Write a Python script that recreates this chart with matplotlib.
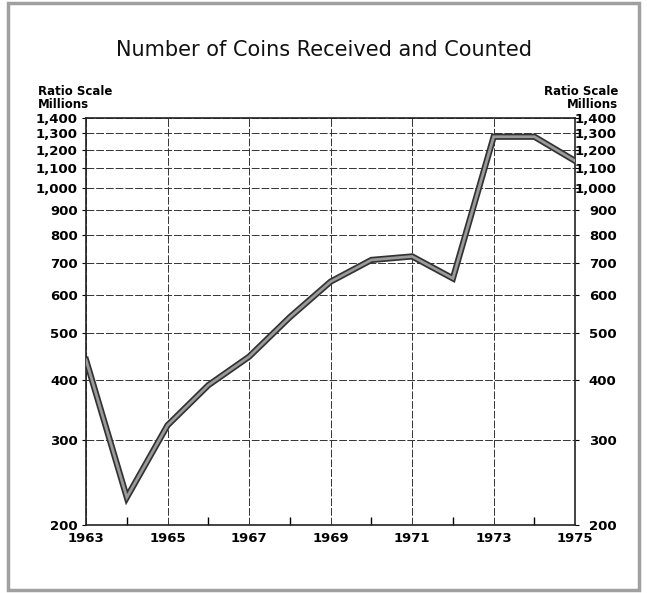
import matplotlib.pyplot as plt
import matplotlib.transforms as mtransforms
from matplotlib.ticker import FixedLocator, NullFormatter, NullLocator
from matplotlib.patches import Rectangle

# Data (millions of coins)
years = [1963, 1964, 1965, 1966, 1967, 1968, 1969, 1970, 1971, 1972, 1973, 1974, 1975]
coins = [440, 228, 322, 390, 447, 540, 640, 710, 722, 650, 1280, 1280, 1140]

y_ticks = [200, 300, 400, 500, 600, 700, 800, 900, 1000, 1100, 1200, 1300, 1400]
y_labels = ['200', '300', '400', '500', '600', '700', '800', '900',
            '1,000', '1,100', '1,200', '1,300', '1,400']
x_ticks = [1963, 1965, 1967, 1969, 1971, 1973, 1975]

plt.rcParams['font.family'] = ['DejaVu Sans']

fig = plt.figure(figsize=(6.47, 5.93), dpi=100)

# grey frame around the whole figure
fig.patches.append(Rectangle((0.013, 0.005), 0.975, 0.99, transform=fig.transFigure,
                             fill=False, edgecolor='#a0a0a0', linewidth=2.5))

ax = fig.add_axes([0.133, 0.115, 0.756, 0.686])
ax.set_yscale('log')
ax.set_ylim(200, 1400)
ax.set_xlim(1963, 1975)

ax.yaxis.set_major_locator(FixedLocator(y_ticks))
ax.yaxis.set_minor_locator(NullLocator())
ax.yaxis.set_minor_formatter(NullFormatter())
ax.set_yticklabels(y_labels)
ax.set_xticks(x_ticks)
ax.set_xticks(years, minor=True)

ax.tick_params(axis='y', which='both', left=True, right=True, labelleft=True,
               labelright=True, length=3, labelsize=9.5, pad=3)
ax.tick_params(axis='x', which='major', length=0, labelsize=9.5, pad=5)
ax.tick_params(axis='x', which='minor', direction='in', length=6, width=1)
for lbl in ax.get_yticklabels() + ax.get_xticklabels():
    lbl.set_fontweight('bold')

# right-hand labels are right-aligned, like the left ones
offset = mtransforms.ScaledTranslation(0.33, 0, fig.dpi_scale_trans)
for t in ax.yaxis.get_major_ticks():
    t.label2.set_horizontalalignment('right')
    t.label2.set_fontweight('bold')
    t.label2.set_transform(t.label2.get_transform() + offset)

ax.grid(True, which='major', axis='both', color='#333333', linewidth=0.7,
        linestyle=(0, (8, 2)))
for s in ax.spines.values():
    s.set_linewidth(1.2)
    s.set_color('#222222')

# thick grey line with dark outline
ax.plot(years, coins, color='#333333', linewidth=4.5, solid_joinstyle='miter', zorder=3)
ax.plot(years, coins, color='#9a9a9a', linewidth=2, solid_joinstyle='miter', zorder=4)

fig.text(0.5, 0.915, 'Number of Coins Received and Counted', ha='center', va='center',
         fontsize=15, fontweight='medium', color='#111111')
fig.text(0.058, 0.835, 'Ratio Scale\nMillions', ha='left', va='center', fontsize=8.5,
         fontweight='bold', linespacing=0.95)
fig.text(0.955, 0.835, 'Ratio Scale\nMillions', ha='right', va='center', fontsize=8.5,
         fontweight='bold', linespacing=0.95, multialignment='right')

fig.savefig('out.png', dpi=100)
